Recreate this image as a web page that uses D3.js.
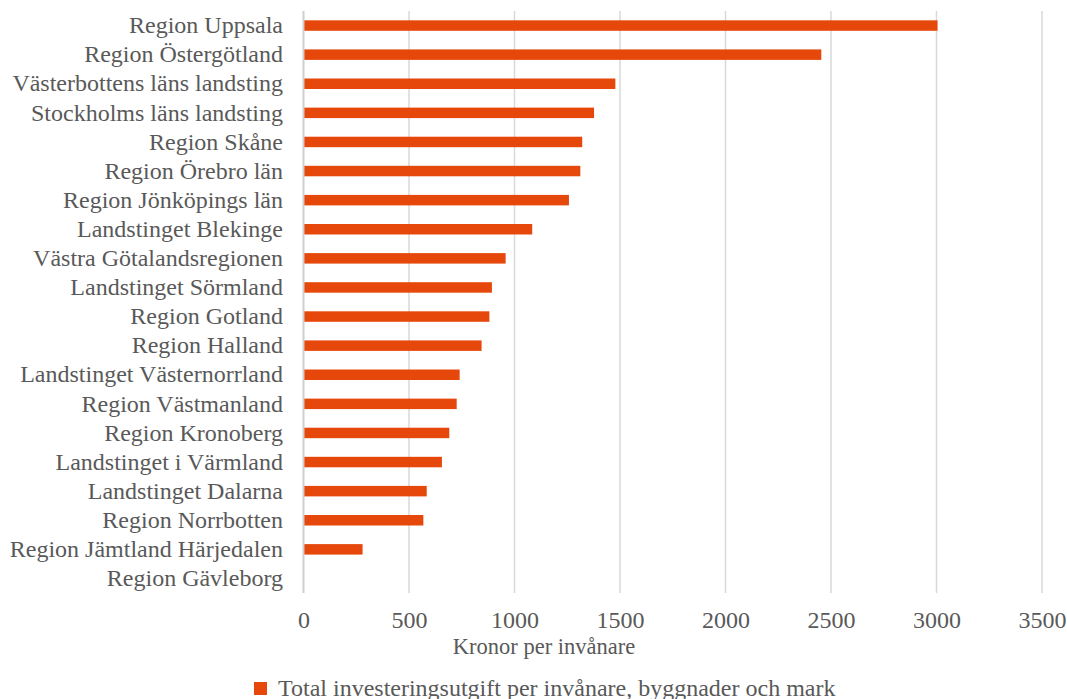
<!DOCTYPE html>
<html><head><meta charset="utf-8">
<script src="https://cdn.jsdelivr.net/npm/d3@7"></script>
<style>body{margin:0;background:#fff;} svg{display:block;}</style>
</head><body>
<script>
const categories = ["Region Uppsala","Region Östergötland","Västerbottens läns landsting","Stockholms läns landsting","Region Skåne","Region Örebro län","Region Jönköpings län","Landstinget Blekinge","Västra Götalandsregionen","Landstinget Sörmland","Region Gotland","Region Halland","Landstinget Västernorrland","Region Västmanland","Region Kronoberg","Landstinget i Värmland","Landstinget Dalarna","Region Norrbotten","Region Jämtland Härjedalen","Region Gävleborg"];
const values = [3005,2454,1478,1377,1321,1312,1258,1084,958,893,881,844,740,726,691,656,584,568,280,0];
const xTicks = [0,500,1000,1500,2000,2500,3000,3500];
const seriesName = "Total investeringsutgift per invånare, byggnader och mark";
const axisTitle = "Kronor per invånare";

const W=1067,H=699;
const font = "'Liberation Serif','Times New Roman',serif";
const svg = d3.select("body").append("svg").attr("width",W).attr("height",H);
const x = d3.scaleLinear().domain([0,3500]).range([303.5,1042]);
const y = d3.scaleBand().domain(categories).range([11,593]).paddingInner(0.64).paddingOuter(0.32);

// gridlines
svg.append("g").selectAll("line").data(xTicks.slice(1)).join("line")
  .attr("x1",d=>x(d)).attr("x2",d=>x(d)).attr("y1",11).attr("y2",593)
  .attr("stroke","#d9d9d9").attr("stroke-width",1.5);

// bars
svg.append("g").selectAll("rect").data(categories).join("rect")
  .attr("x",x(0)).attr("y",d=>y(d))
  .attr("width",(d,i)=>Math.max(0,x(values[i])-x(0)))
  .attr("height",y.bandwidth())
  .attr("fill","#E6470B");

// zero axis line
svg.append("line").attr("x1",x(0)).attr("x2",x(0)).attr("y1",11).attr("y2",593)
  .attr("stroke","#cfcfcf").attr("stroke-width",2);

// y labels
const yAxis = d3.axisLeft(y).tickSize(0).tickPadding(0);
const ya = svg.append("g").attr("transform","translate(283,0)").call(yAxis);
ya.select(".domain").remove();
ya.selectAll("text").attr("font-family",font).attr("font-size",24).attr("fill","#595959").attr("dy","0.32em");

// x axis labels
const xAxis = d3.axisBottom(x).tickValues(xTicks).tickSize(0).tickPadding(0).tickFormat(d3.format("d"));
const xa = svg.append("g").attr("transform","translate(0,611)").call(xAxis);
xa.select(".domain").remove();
xa.selectAll("text").attr("font-family",font).attr("font-size",24).attr("fill","#595959");

// axis title
svg.append("text").attr("x",544).attr("y",653.5).attr("text-anchor","middle")
  .attr("font-family",font).attr("font-size",22.5).attr("fill","#595959").text(axisTitle);

// legend
svg.append("rect").attr("x",254).attr("y",682).attr("width",13).attr("height",13).attr("fill","#E6470B");
svg.append("text").attr("x",278).attr("y",695.5).attr("font-family",font).attr("font-size",24)
  .attr("fill","#595959").text(seriesName);
</script>
</body></html>
